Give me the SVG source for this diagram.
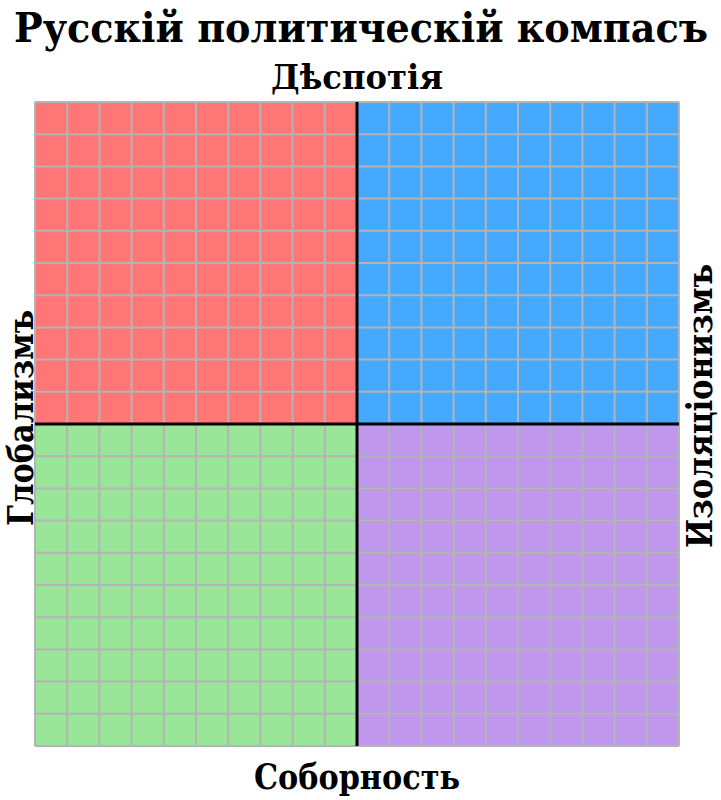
<svg xmlns="http://www.w3.org/2000/svg" width="721" height="800" viewBox="0 0 721 800">
<style>
.t{font-family:"DejaVu Serif Condensed","DejaVu Serif","Liberation Serif",serif;font-weight:bold;fill:#000}
.grid{fill:none;stroke:#b4b4b4;stroke-width:2}
.axis{stroke:#000;stroke-width:3}
</style>
<rect width="721" height="800" fill="#fff"/>
<g id="quadrants">
<rect id="q-tl" x="35" y="102" width="322" height="322" fill="#ff7676"/>
<rect id="q-tr" x="357" y="102" width="322" height="322" fill="#44a9ff"/>
<rect id="q-bl" x="35" y="424" width="322" height="322" fill="#99e699"/>
<rect id="q-br" x="357" y="424" width="322" height="322" fill="#bf97ec"/>
</g>
<g id="grid">
<path class="grid" d="M35 102V746M67.2 102V746M99.4 102V746M131.6 102V746M163.8 102V746M196 102V746M228.2 102V746M260.4 102V746M292.6 102V746M324.8 102V746M389.2 102V746M421.4 102V746M453.6 102V746M485.8 102V746M518 102V746M550.2 102V746M582.4 102V746M614.6 102V746M646.8 102V746M679 102V746M35 102H679M35 134.2H679M35 166.4H679M35 198.6H679M35 230.8H679M35 263H679M35 295.2H679M35 327.4H679M35 359.6H679M35 391.8H679M35 456.2H679M35 488.4H679M35 520.6H679M35 552.8H679M35 585H679M35 617.2H679M35 649.4H679M35 681.6H679M35 713.8H679M35 746H679"/>
</g>
<g id="axes">
<line class="axis" x1="357" y1="102" x2="357" y2="746"/>
<line class="axis" x1="35" y1="424" x2="679" y2="424"/>
</g>
<g id="title"><text class="t" x="14" y="42" font-size="41" textLength="694" lengthAdjust="spacingAndGlyphs">Русскій политическій компасъ</text></g>
<g id="label-top"><text class="t" x="357" y="89" font-size="34" text-anchor="middle" textLength="172" lengthAdjust="spacingAndGlyphs">Дѣспотія</text></g>
<g id="label-bottom"><text class="t" x="357" y="789" font-size="36" text-anchor="middle" textLength="206" lengthAdjust="spacingAndGlyphs">Соборность</text></g>
<g id="label-left"><text class="t" transform="translate(33 418) rotate(-90)" x="0" y="0" font-size="36" text-anchor="middle" textLength="216" lengthAdjust="spacingAndGlyphs">Глобализмъ</text></g>
<g id="label-right"><text class="t" transform="translate(712 406) rotate(-90)" x="0" y="0" font-size="36" text-anchor="middle" textLength="284" lengthAdjust="spacingAndGlyphs">Изоляціонизмъ</text></g>
</svg>
